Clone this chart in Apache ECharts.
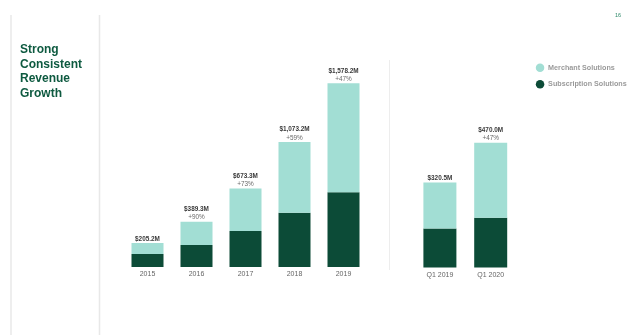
<!DOCTYPE html>
<html>
<head>
<meta charset="utf-8">
<style>
  html, body { margin: 0; padding: 0; background: #ffffff; }
  #chart { width: 640px; height: 335px; }
</style>
<script src="https://cdn.jsdelivr.net/npm/echarts@6/dist/echarts.min.js"></script>
</head>
<body>
<div id="chart"></div>
<script>
// Annual revenue, US$ millions
const years = ['2015', '2016', '2017', '2018', '2019'];
const yearSubscription = [111.9, 188.6, 310.0, 465.0, 642.2];
const yearMerchant = [93.3, 200.7, 363.3, 608.2, 936.0];
const yearGrowth = ['', '+90%', '+73%', '+59%', '+47%'];

// First-quarter revenue, US$ millions
const quarters = ['Q1 2019', 'Q1 2020'];
const quarterSubscription = [147.2, 188.0];
const quarterMerchant = [173.3, 282.0];
const quarterGrowth = ['', '+47%'];

const LIGHT = '#a2ded4';
const DARK = '#0c4b37';
const FONT = '"Liberation Sans", Arial, Helvetica, sans-serif';

function money(v) {
  const s = v.toFixed(1);
  const [i, d] = s.split('.');
  return '$' + i.replace(/\B(?=(\d{3})+(?!\d))/g, ',') + '.' + d + 'M';
}

function topLabel(sub, merch, growth) {
  return {
    show: true,
    position: 'top',
    distance: 0,
    formatter: p => {
      const total = sub[p.dataIndex] + merch[p.dataIndex];
      const g = growth[p.dataIndex];
      return '{a|' + money(total) + '}' + (g ? '\n{b|' + g + '}' : '');
    },
    rich: {
      a: { fontFamily: FONT, fontSize: 6.4, fontWeight: 'bold', color: '#3a3a3a', lineHeight: 8.3 },
      b: { fontFamily: FONT, fontSize: 6.4, color: '#6a6a6a', lineHeight: 8.3 }
    }
  };
}

const axisLabelStyle = { fontFamily: FONT, fontSize: 7, color: '#666', margin: 4 };

const chart = echarts.init(document.getElementById('chart'), null, { renderer: 'canvas' });
chart.setOption({
  animation: false,
  backgroundColor: '#ffffff',
  legend: {
    data: ['Merchant Solutions', 'Subscription Solutions'],
    orient: 'vertical',
    left: 535.8,
    top: 63.4,
    padding: 0,
    icon: 'circle',
    itemWidth: 8.5,
    itemHeight: 8.5,
    itemGap: 8.1,
    textStyle: { fontFamily: FONT, fontSize: 7.2, fontWeight: 'bold', color: '#9a9a9a', padding: [0, 0, 0, -1.2] }
  },
  grid: [
    { left: 123, width: 245, top: 69, bottom: 68 },
    { left: 414.5, width: 101.6, top: 108.4, bottom: 67.5 }
  ],
  xAxis: [
    { type: 'category', gridIndex: 0, data: years, axisLine: { show: false }, axisTick: { show: false }, axisLabel: axisLabelStyle },
    { type: 'category', gridIndex: 1, data: quarters, axisLine: { show: false }, axisTick: { show: false }, axisLabel: axisLabelStyle }
  ],
  yAxis: [
    { type: 'value', gridIndex: 0, min: 0, max: 1700, show: false, splitLine: { show: false } },
    { type: 'value', gridIndex: 1, min: 0, max: 600, show: false, splitLine: { show: false } }
  ],
  series: [
    { name: 'Subscription Solutions', type: 'bar', stack: 'year', xAxisIndex: 0, yAxisIndex: 0,
      barWidth: 32, data: yearSubscription, itemStyle: { color: DARK } },
    { name: 'Merchant Solutions', type: 'bar', stack: 'year', xAxisIndex: 0, yAxisIndex: 0,
      barWidth: 32, data: yearMerchant, itemStyle: { color: LIGHT },
      label: topLabel(yearSubscription, yearMerchant, yearGrowth) },
    { name: 'Subscription Solutions', type: 'bar', stack: 'quarter', xAxisIndex: 1, yAxisIndex: 1,
      barWidth: 33, data: quarterSubscription, itemStyle: { color: DARK } },
    { name: 'Merchant Solutions', type: 'bar', stack: 'quarter', xAxisIndex: 1, yAxisIndex: 1,
      barWidth: 33, data: quarterMerchant, itemStyle: { color: LIGHT },
      label: topLabel(quarterSubscription, quarterMerchant, quarterGrowth) }
  ],
  graphic: [
    // side panel borders
    { type: 'line', shape: { x1: 11, y1: 15, x2: 11, y2: 335 }, style: { stroke: '#e8e8e8', lineWidth: 1.5 } },
    { type: 'line', shape: { x1: 99.5, y1: 15, x2: 99.5, y2: 335 }, style: { stroke: '#e8e8e8', lineWidth: 1.5 } },
    // divider between annual and quarterly bars
    { type: 'line', shape: { x1: 389.5, y1: 60, x2: 389.5, y2: 270 }, style: { stroke: '#ededed', lineWidth: 1 } },
    // panel heading
    { type: 'text', left: 20, top: 42.5,
      style: { text: 'Strong\nConsistent\nRevenue\nGrowth', font: 'bold 12px ' + FONT, fill: '#0e5a40', lineHeight: 14.6 } },
    // page number
    { type: 'text', left: 615, top: 12,
      style: { text: '16', font: '5.5px ' + FONT, fill: '#2f8a6a' } }
  ]
});
</script>
</body>
</html>
